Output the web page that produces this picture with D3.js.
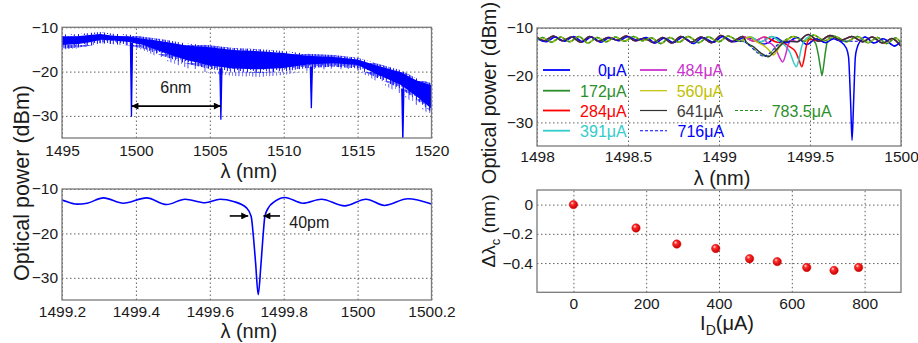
<!DOCTYPE html>
<html><head><meta charset="utf-8">
<script src="https://cdn.jsdelivr.net/npm/d3@7"></script>
<style>
html,body{margin:0;padding:0;background:#fff;}
svg{display:block;font-family:"Liberation Sans",Arial,sans-serif;}
</style></head>
<body>
<div id="chart"></div>
<script>
// ---------------- DATA ----------------
// Panel A: broadband spectrum envelope (1495-1520 nm)
const overviewWl    = [1495, 1496, 1497, 1497.6, 1498.5, 1499.5, 1500.5, 1501.3, 1502.1, 1503.4, 1505, 1506.6, 1508.4, 1510, 1511.6, 1513.4, 1515, 1516.3, 1517.9, 1519, 1520];
const overviewUpper = [-12.0, -11.9, -11.6, -11.4, -11.8, -12.0, -12.5, -12.8, -13.2, -14.0, -14.4, -15.0, -15.3, -15.7, -16.3, -16.6, -17.2, -18.5, -20.0, -21.9, -23.0];
const overviewLower = [-14.0, -13.8, -13.3, -12.8, -13.0, -13.3, -14.0, -15.0, -16.0, -17.4, -18.6, -19.3, -19.5, -19.2, -18.4, -18.1, -18.5, -20.6, -23.0, -25.6, -28.4];
const overviewSpikeLow = [-15.0, -14.8, -14.2, -13.6, -13.8, -14.2, -15.2, -16.4, -17.6, -19.2, -20.3, -21.0, -21.2, -20.8, -19.8, -19.3, -19.8, -22.2, -25.0, -27.6, -30.0];
const dipWl  = [1499.7, 1505.75, 1511.87, 1518.06];
const dipTop = [-13.5, -19.3, -18.9, -23.8];
const dipMin = [-30.2, -30.9, -28.3, -36];
const overviewXTicks = [1495, 1500, 1505, 1510, 1515, 1520];
const powerYTicks = [-10, -20, -30];

// 0 uA spectrum (used in panels B and C)
const spec0 = [
 [1498.00,-12.2],[1498.05,-12.9],[1498.10,-11.9],[1498.15,-12.8],[1498.20,-11.8],[1498.25,-12.9],
 [1498.30,-11.9],[1498.35,-13.0],[1498.40,-12.0],[1498.45,-12.7],[1498.50,-11.8],[1498.55,-12.6],
 [1498.60,-12.0],[1498.65,-13.2],[1498.70,-12.1],[1498.75,-13.1],[1498.80,-11.9],[1498.86,-13.3],
 [1498.91,-12.0],[1498.97,-13.0],[1499.02,-11.8],[1499.08,-12.9],[1499.14,-12.0],[1499.20,-12.5],
 [1499.24,-13.4],[1499.268,-13.2],[1499.312,-12.0],[1499.366,-13.2],[1499.429,-12.0],[1499.483,-13.5],
 [1499.533,-12.3],[1499.587,-13.1],[1499.628,-12.3],[1499.664,-12.8],[1499.700,-14.3],[1499.712,-16.2],
 [1499.718,-20.7],[1499.724,-26.7],[1499.731,-33.8],[1499.738,-27.5],[1499.744,-20.7],[1499.749,-16.2],
 [1499.758,-14.3],[1499.776,-12.8],[1499.803,-11.9],[1499.852,-13.2],[1499.902,-12.3],[1499.965,-13.8],
 [1500.023,-12.3],[1500.073,-13.7],[1500.136,-12.2],[1500.200,-13.4]
];
const zoomXTicks = [1499.2, 1499.4, 1499.6, 1499.8, 1500, 1500.2];

// Panel C: ripple backgrounds of the biased spectra
const rippleA = [
 [1498.00,-12.6],[1498.03,-12.0],[1498.08,-13.0],[1498.13,-11.9],[1498.18,-12.9],[1498.23,-11.8],
 [1498.28,-13.2],[1498.33,-12.0],[1498.38,-12.9],[1498.43,-11.9],[1498.48,-12.8],[1498.53,-11.8],
 [1498.58,-12.7],[1498.63,-12.1],[1498.68,-13.3],[1498.73,-12.0],[1498.78,-13.0],[1498.83,-11.8],
 [1498.89,-13.1],[1498.94,-11.9],[1499.00,-12.9],[1499.05,-11.7],[1499.11,-12.8],[1499.17,-11.9],
 [1499.23,-12.9],[1499.29,-11.8],[1499.35,-12.9],[1499.41,-11.8],[1499.47,-12.8],[1499.52,-11.5],
 [1499.58,-12.7],[1499.64,-11.8],[1499.70,-12.9],[1499.76,-11.8],[1499.82,-13.1],[1499.87,-12.0],
 [1499.92,-13.3],[1499.97,-12.1],[1500.00,-13.2]
];
const rippleB = [
 [1498.00,-12.0],[1498.04,-12.7],[1498.09,-11.7],[1498.14,-12.7],[1498.19,-11.9],[1498.24,-13.0],
 [1498.29,-11.8],[1498.34,-12.8],[1498.39,-12.0],[1498.44,-12.6],[1498.49,-11.7],[1498.54,-12.7],
 [1498.59,-12.2],[1498.64,-13.1],[1498.69,-12.0],[1498.74,-13.2],[1498.79,-11.8],[1498.85,-13.0],
 [1498.90,-11.9],[1498.96,-13.1],[1499.01,-11.6],[1499.07,-12.9],[1499.13,-11.8],[1499.19,-12.8],
 [1499.25,-11.9],[1499.31,-12.9],[1499.37,-11.7],[1499.43,-12.9],[1499.49,-11.4],[1499.55,-12.8],
 [1499.61,-11.6],[1499.67,-12.6],[1499.73,-11.8],[1499.79,-12.9],[1499.84,-11.9],[1499.90,-13.2],
 [1499.95,-12.2],[1500.00,-13.9]
];
// Resonance dips read for each bias current
const dip172 = [[1499.50,-12.3],[1499.53,-13.2],[1499.545,-15.5],[1499.557,-18.3],[1499.566,-20.0],[1499.575,-18.0],[1499.585,-15.0],[1499.597,-12.6],[1499.62,-11.6]];
const dip284 = [[1499.36,-13.3],[1499.39,-14.0],[1499.42,-15.0],[1499.44,-16.8],[1499.455,-18.2],[1499.47,-16.0],[1499.48,-13.8],[1499.50,-12.4]];
const dip391 = [[1499.33,-12.8],[1499.36,-13.6],[1499.39,-15.2],[1499.41,-17.3],[1499.425,-18.2],[1499.44,-16.5],[1499.455,-13.8],[1499.48,-12.2]];
const dip484 = [[1499.26,-13.0],[1499.29,-13.4],[1499.31,-14.3],[1499.33,-16.0],[1499.35,-17.2],[1499.365,-15.8],[1499.38,-13.6],[1499.40,-12.6]];
const dip560 = [[1499.20,-12.8],[1499.24,-13.6],[1499.27,-14.5],[1499.30,-15.7],[1499.32,-14.8],[1499.34,-13.6],[1499.37,-12.6]];
const dip641 = [[1499.15,-13.0],[1499.19,-14.0],[1499.23,-15.3],[1499.27,-16.1],[1499.30,-15.2],[1499.34,-13.6],[1499.37,-12.8]];
const dip716 = [[1499.13,-12.8],[1499.17,-13.8],[1499.21,-15.2],[1499.245,-16.0],[1499.28,-15.3],[1499.32,-13.6],[1499.35,-12.7]];
const dip783 = [[1499.14,-12.9],[1499.18,-14.0],[1499.22,-15.4],[1499.26,-16.0],[1499.29,-15.0],[1499.33,-13.5],[1499.36,-12.6]];
const seriesLabels = ["0\u03BCA","172\u03BCA","284\u03BCA","391\u03BCA","484\u03BCA","560\u03BCA","641\u03BCA","716\u03BCA","783.5\u03BCA"];
const seriesColors = ["#0000ff","#2a8f2a","#ff0000","#33cccc","#cc33cc","#bfbf00","#333333","#0000ff","#2a8f2a"];
const seriesDashed = [false,false,false,false,false,false,false,true,true];
const detailXTicks = [1498, 1498.5, 1499, 1499.5, 1500];

// Panel D: resonance shift vs current
const currents = [0, 172, 284, 391, 484, 560, 641, 716, 783.5];
const shifts   = [0, -0.16, -0.27, -0.30, -0.37, -0.39, -0.43, -0.45, -0.43];
const shiftXTicks = [0, 200, 400, 600, 800];
const shiftYTicks = [0, -0.2, -0.4];

// ---------------- LAYOUT ----------------
const W = 918, H = 343;
const LA = {x0:62, x1:431.5, y0:27.3, y1:138};
const LB = {x0:62, x1:431.5, y0:189, y1:300};
const LC = {x0:537, x1:901, y0:28, y1:146};
const LD = {x0:537, x1:901, y0:190, y1:292.3};
const FONT = "Liberation Sans, Arial, sans-serif";

const svg = d3.select("#chart").append("svg").attr("width", W).attr("height", H);
const defs = svg.append("defs");
defs.append("marker").attr("id","arr").attr("viewBox","0 0 10 10").attr("refX",10).attr("refY",5)
  .attr("markerWidth",9).attr("markerHeight",7).attr("markerUnits","userSpaceOnUse")
  .attr("orient","auto-start-reverse")
  .append("path").attr("d","M0,0L10,5L0,10z").attr("fill","#000");
const grad = defs.append("radialGradient").attr("id","ball").attr("cx","40%").attr("cy","40%").attr("r","60%").attr("fx","35%").attr("fy","30%");
grad.append("stop").attr("offset","0%").attr("stop-color","#ffe0e0");
grad.append("stop").attr("offset","35%").attr("stop-color","#ff2a2a");
grad.append("stop").attr("offset","100%").attr("stop-color","#c40000");
// irregular hair texture (styling only)
const hair = defs.append("pattern").attr("id","hair").attr("patternUnits","userSpaceOnUse")
  .attr("width",13).attr("height",9);
[[0,0,9],[1.7,0,4],[3.1,0,7],[4.6,0,3],[5.9,0,8],[7.4,0,5],[8.8,0,9],[10.2,0,2.5],[11.5,0,6]]
  .forEach(r=>hair.append("rect").attr("x",r[0]).attr("y",r[1]).attr("width",1).attr("height",r[2]).attr("fill","#1515ff"));
const hair2 = defs.append("pattern").attr("id","hair2").attr("patternUnits","userSpaceOnUse")
  .attr("width",17).attr("height",12);
[[0.5,0,12,"#3a3aff"],[4.2,0,5,"#6a6aff"],[7.8,0,9,"#3a3aff"],[11.1,0,4,"#7a7aff"],[14.3,0,7,"#4a4aff"]]
  .forEach(r=>hair2.append("rect").attr("x",r[0]).attr("y",r[1]).attr("width",0.9).attr("height",r[2]).attr("fill",r[3]));

function clip(id, L){
  defs.append("clipPath").attr("id",id).append("rect")
    .attr("x",L.x0).attr("y",L.y0).attr("width",L.x1-L.x0).attr("height",L.y1-L.y0);
}
clip("cA",LA); clip("cB",LB); clip("cC",LC); clip("cD",LD);

function grid(L, x, y, xt, yt){
  const g = svg.append("g");
  g.append("g").attr("transform",`translate(0,${L.y1})`)
    .call(d3.axisBottom(x).tickValues(xt).tickSize(-(L.y1-L.y0)).tickFormat(""))
    .call(s=>{s.select(".domain").remove();
      s.selectAll("line").attr("stroke","#3a3a3a").attr("stroke-width",0.8).attr("stroke-dasharray","1.5,2.5");});
  g.append("g").attr("transform",`translate(${L.x0},0)`)
    .call(d3.axisLeft(y).tickValues(yt).tickSize(-(L.x1-L.x0)).tickFormat(""))
    .call(s=>{s.select(".domain").remove();
      s.selectAll("line").attr("stroke","#3a3a3a").attr("stroke-width",0.8).attr("stroke-dasharray","1.5,2.5");});
}
function labels(L, x, y, xt, yt, xf, yf, pad){
  const g = svg.append("g");
  g.append("g").attr("transform",`translate(0,${L.y1})`)
    .call(d3.axisBottom(x).tickValues(xt).tickSize(0).tickPadding(pad).tickFormat(xf))
    .call(s=>{s.select(".domain").remove();
      s.selectAll("text").attr("font-size",15.5).attr("fill","#1a1a1a").attr("font-family",FONT);});
  g.append("g").attr("transform",`translate(${L.x0},0)`)
    .call(d3.axisLeft(y).tickValues(yt).tickSize(0).tickPadding(4).tickFormat(yf))
    .call(s=>{s.select(".domain").remove();
      s.selectAll("text").attr("font-size",15.5).attr("fill","#1a1a1a").attr("font-family",FONT);});
}
function box(L){
  svg.append("rect").attr("x",L.x0).attr("y",L.y0).attr("width",L.x1-L.x0).attr("height",L.y1-L.y0)
    .attr("fill","none").attr("stroke","#7a7a7a").attr("stroke-width",1.3);
}

// ---------------- PANEL A ----------------
const xA = d3.scaleLinear().domain([1495,1520]).range([LA.x0,LA.x1]);
const yA = d3.scaleLinear().domain([-35,-10]).range([LA.y1,LA.y0]);
grid(LA,xA,yA,overviewXTicks,powerYTicks);
const gA = svg.append("g").attr("clip-path","url(#cA)");
const idxA = d3.range(overviewWl.length);
// sparse noise spikes below the dense band
gA.append("path").datum(idxA)
  .attr("d", d3.area().x(i=>xA(overviewWl[i])).y0(i=>yA(overviewSpikeLow[i])).y1(i=>yA(overviewLower[i])))
  .attr("fill","url(#hair2)");
// ragged lower edge
gA.append("path").datum(idxA)
  .attr("d", d3.area().x(i=>xA(overviewWl[i])).y0(i=>yA(overviewLower[i]-0.8)).y1(i=>yA(overviewLower[i]+0.2)))
  .attr("fill","url(#hair)");
// ragged upper edge
gA.append("path").datum(idxA)
  .attr("d", d3.area().x(i=>xA(overviewWl[i])).y0(i=>yA(overviewUpper[i]-0.2)).y1(i=>yA(overviewUpper[i]+0.35)))
  .attr("fill","url(#hair)");
// dense core
gA.append("path").datum(idxA)
  .attr("d", d3.area().x(i=>xA(overviewWl[i])).y0(i=>yA(overviewLower[i])).y1(i=>yA(overviewUpper[i]-0.1)))
  .attr("fill","#0000ff");
dipWl.forEach((w,i)=>{
  gA.append("path")
    .datum([[w-0.07,dipTop[i]],[w,dipMin[i]],[w+0.07,dipTop[i]]])
    .attr("d", d3.line().x(d=>xA(d[0])).y(d=>yA(d[1])))
    .attr("fill","#0000ff").attr("stroke","#0000ff").attr("stroke-width",1.3);
});
box(LA);
labels(LA,xA,yA,overviewXTicks,powerYTicks,d3.format("d"),d3.format("d"),7);
svg.append("line").attr("x1",xA(dipWl[0])).attr("x2",xA(dipWl[1])).attr("y1",yA(-27.8)).attr("y2",yA(-27.8))
  .attr("stroke","#000").attr("stroke-width",1.6).attr("marker-start","url(#arr)").attr("marker-end","url(#arr)");
svg.append("text").attr("x",xA(1502.7)).attr("y",yA(-24.8)).attr("text-anchor","middle")
  .attr("font-size",16).attr("fill","#1a1a1a").text("6nm");
svg.append("text").attr("x",(LA.x0+LA.x1)/2+2).attr("y",178).attr("text-anchor","middle")
  .attr("font-size",20).attr("fill","#1a1a1a").text("\u03BB (nm)");

// ---------------- PANEL B ----------------
const xB = d3.scaleLinear().domain([1499.2,1500.2]).range([LB.x0,LB.x1]);
const yB = d3.scaleLinear().domain([-35,-10]).range([LB.y1,LB.y0]);
grid(LB,xB,yB,zoomXTicks,powerYTicks);
svg.append("g").attr("clip-path","url(#cB)").append("path").datum(spec0)
  .attr("d", d3.line().x(d=>xB(d[0])).y(d=>yB(d[1])).curve(d3.curveMonotoneX))
  .attr("fill","none").attr("stroke","#0000ff").attr("stroke-width",1.6);
box(LB);
labels(LB,xB,yB,zoomXTicks,powerYTicks,d=>d3.format("")(+d.toFixed(1)),d3.format("d"),6);
svg.append("line").attr("x1",xB(1499.654)).attr("x2",xB(1499.704)).attr("y1",yB(-16.07)).attr("y2",yB(-16.07))
  .attr("stroke","#000").attr("stroke-width",1.6).attr("marker-end","url(#arr)");
svg.append("line").attr("x1",xB(1499.79)).attr("x2",xB(1499.745)).attr("y1",yB(-16.07)).attr("y2",yB(-16.07))
  .attr("stroke","#000").attr("stroke-width",1.6).attr("marker-end","url(#arr)");
svg.append("text").attr("x",xB(1499.815)).attr("y",yB(-18.8)).attr("font-size",16).attr("fill","#1a1a1a").text("40pm");
svg.append("text").attr("x",(LB.x0+LB.x1)/2+2).attr("y",338).attr("text-anchor","middle")
  .attr("font-size",20).attr("fill","#1a1a1a").text("\u03BB (nm)");
svg.append("text").attr("transform","translate(29,183) rotate(-90)").attr("text-anchor","middle")
  .attr("font-size",21.5).attr("fill","#1a1a1a").text("Optical power (dBm)");

// ---------------- PANEL C ----------------
const xC = d3.scaleLinear().domain([1498,1500]).range([LC.x0,LC.x1]);
const yC = d3.scaleLinear().domain([-35,-10]).range([LC.y1,LC.y0]);
grid(LC,xC,yC,detailXTicks,powerYTicks);
function compose(base, dip){
  const a = dip[0][0], b = dip[dip.length-1][0];
  return base.filter(d=>d[0]<a).concat(dip, base.filter(d=>d[0]>b));
}
const seriesData = [
  spec0,
  compose(rippleA, dip172),
  compose(rippleB, dip284),
  compose(rippleA, dip391),
  compose(rippleB, dip484),
  compose(rippleA, dip560),
  compose(rippleB, dip641),
  compose(spec0.filter(d=>d[0]<1499.69||d[0]>1499.77), dip716),
  compose(rippleA, dip783)
];
const lineC = d3.line().x(d=>xC(d[0])).y(d=>yC(d[1])).curve(d3.curveMonotoneX);
const gC = svg.append("g").attr("clip-path","url(#cC)");
seriesData.forEach((s,i)=>{
  gC.append("path").datum(s).attr("d",lineC).attr("fill","none")
    .attr("stroke",seriesColors[i]).attr("stroke-width",seriesDashed[i]?1.1:1.5)
    .attr("stroke-dasharray",seriesDashed[i]?"3,2":null);
});
box(LC);
labels(LC,xC,yC,detailXTicks,powerYTicks,d=>d3.format("")(+d.toFixed(1)),d3.format("d"),5);
// legend
const legPos = [
  {lx:543,tx:626.7,anchor:"end",y:70},
  {lx:543,tx:626.7,anchor:"end",y:90.7},
  {lx:543,tx:626.7,anchor:"end",y:110.5},
  {lx:543,tx:626.7,anchor:"end",y:130.7},
  {lx:640,tx:676.7,anchor:"start",y:70},
  {lx:640,tx:676.7,anchor:"start",y:90.7},
  {lx:640,tx:676.7,anchor:"start",y:110.5},
  {lx:640,tx:677.5,anchor:"start",y:130.7},
  {lx:735,tx:771.7,anchor:"start",y:110.5}
];
const legTextColors = ["#0000ff","#2a8f2a","#ff0000","#33cccc","#cc33cc","#bfbf00","#404040","#0000ff","#2a8f2a"];
seriesLabels.forEach((lab,i)=>{
  const p = legPos[i];
  svg.append("line").attr("x1",p.lx).attr("x2",p.lx+27).attr("y1",p.y).attr("y2",p.y)
    .attr("stroke",seriesColors[i]).attr("stroke-width",seriesDashed[i]?1.1:(i===6||i===5?1.2:1.8))
    .attr("stroke-dasharray",seriesDashed[i]?"3,2":null);
  svg.append("text").attr("x",p.tx).attr("y",p.y+6).attr("text-anchor",p.anchor)
    .attr("font-size",16).attr("fill",legTextColors[i]).text(lab);
});
svg.append("text").attr("x",(LC.x0+LC.x1)/2+3).attr("y",185).attr("text-anchor","middle")
  .attr("font-size",20).attr("fill","#1a1a1a").text("\u03BB (nm)");
svg.append("text").attr("transform","translate(496,93) rotate(-90)").attr("text-anchor","middle")
  .attr("font-size",20).attr("fill","#1a1a1a").text("Optical power (dBm)");

// ---------------- PANEL D ----------------
const xD = d3.scaleLinear().domain([-100,900]).range([LD.x0,LD.x1]);
const yD = d3.scaleLinear().domain([-0.6,0.1]).range([LD.y1,LD.y0]);
grid(LD,xD,yD,shiftXTicks,shiftYTicks);
svg.append("g").attr("clip-path","url(#cD)").selectAll("circle").data(currents).join("circle")
  .attr("cx",(d)=>xD(d)).attr("cy",(d,i)=>yD(shifts[i])).attr("r",4.2)
  .attr("fill","url(#ball)").attr("stroke","#e00000").attr("stroke-width",0.5);
box(LD);
labels(LD,xD,yD,shiftXTicks,shiftYTicks,d3.format("d"),d=>d===0?"0":d3.format(".1f")(d),6);
const tI = svg.append("text").attr("x",727).attr("y",330).attr("text-anchor","middle")
  .attr("font-size",20).attr("fill","#1a1a1a");
tI.append("tspan").text("I");
tI.append("tspan").attr("font-size",14).attr("dy",5).text("D");
tI.append("tspan").attr("dy",-5).text("(\u03BCA)");
const tD = svg.append("text").attr("transform","translate(495,231) rotate(-90)").attr("text-anchor","middle")
  .attr("font-size",19).attr("fill","#1a1a1a");
tD.append("tspan").text("\u0394\u03BB");
tD.append("tspan").attr("font-size",13).attr("dy",5).text("c");
tD.append("tspan").attr("dy",-5).text(" (nm)");
</script>
</body></html>
